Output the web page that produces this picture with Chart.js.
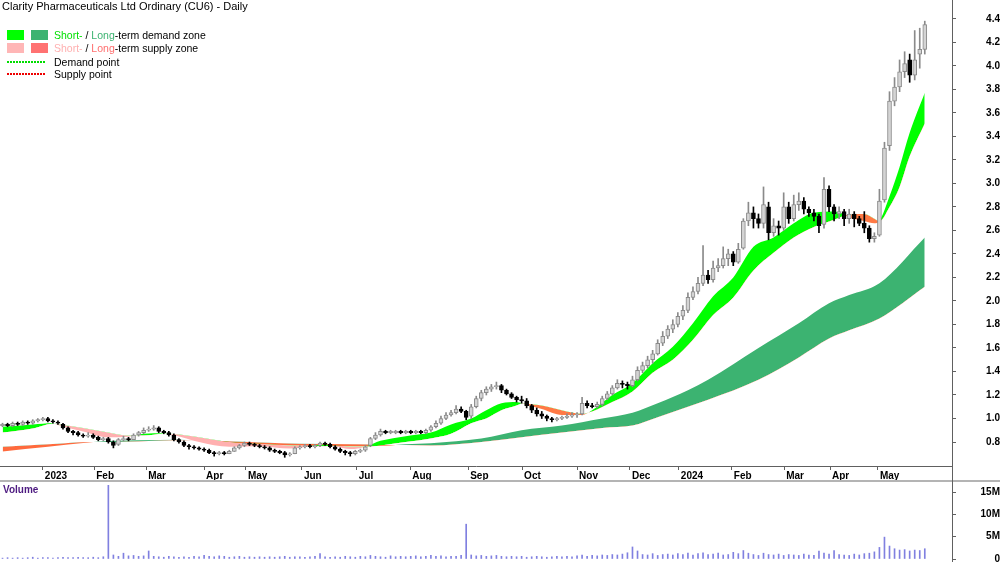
<!DOCTYPE html>
<html>
<head>
<meta charset="utf-8">
<script src="https://cdn.jsdelivr.net/npm/chart.js@4.4.1/dist/chart.umd.min.js"></script>
<style>
  body { margin: 0; width: 1000px; height: 562px; overflow: hidden; background: #fff; position: relative; font-family: 'Liberation Sans', Arial, sans-serif; }
  #price { position: absolute; left: 0; top: 0; }
  #volume { position: absolute; left: 0; top: 482px; }
  #sep { position: absolute; left: 0; top: 480px; width: 1000px; height: 2px; background: #b4b4b4; }
  #vline { position: absolute; left: 952px; top: 0; width: 1px; height: 562px; background: #606060; }
  #title { position: absolute; left: 2px; top: 0; font-size: 11px; line-height: 13px; color: #000; white-space: nowrap; }
  .row { position: absolute; left: 0; width: 300px; height: 12px; }
  .sw { position: absolute; top: 1px; width: 17px; height: 10px; }
  .txt { position: absolute; left: 54px; top: 0; font-size: 10.5px; line-height: 12px; white-space: nowrap; color: #000; }
  .dots { position: absolute; left: 7px; top: 5px; width: 38px; height: 2px; }
  #vol-label { position: absolute; left: 3px; top: 484px; font-size: 10px; line-height: 12px; font-weight: bold; color: #4d1a80; }
</style>
</head>
<body>
<canvas id="price" width="1000" height="480"></canvas>
<div id="sep"></div>
<canvas id="volume" width="1000" height="80"></canvas>
<div id="vline"></div>
<div id="title">Clarity Pharmaceuticals Ltd Ordinary (CU6) - Daily</div>
<div class="row" style="top:29px">
  <span class="sw" style="left:7px;background:#00ff00"></span>
  <span class="sw" style="left:31px;background:#3cb371"></span>
  <span class="txt"><span style="color:#00e000">Short-</span> / <span style="color:#3cb371">Long</span>-term demand zone</span>
</div>
<div class="row" style="top:42px">
  <span class="sw" style="left:7px;background:#ffb6b6"></span>
  <span class="sw" style="left:31px;background:#ff7272"></span>
  <span class="txt"><span style="color:#ffb0b0">Short-</span> / <span style="color:#ff6e6e">Long</span>-term supply zone</span>
</div>
<div class="row" style="top:56px">
  <span class="dots" style="background:repeating-linear-gradient(to right,#00dd00 0 2px,transparent 2px 3px)"></span>
  <span class="txt">Demand point</span>
</div>
<div class="row" style="top:68px">
  <span class="dots" style="background:repeating-linear-gradient(to right,#ee0000 0 2px,transparent 2px 3px)"></span>
  <span class="txt">Supply point</span>
</div>
<div id="vol-label">Volume</div>

<script>
// Candles: one per two trading days, Dec 2022 - May 2024
const opens = [
  0.94,0.95,0.94,0.96,0.95,0.97,0.96,0.98,0.99,1.00,
  0.98,0.97,0.95,0.92,0.89,0.88,0.86,0.85,0.86,0.84,
  0.82,0.83,0.80,0.78,0.82,0.83,0.82,0.86,0.88,0.90,
  0.91,0.92,0.89,0.88,0.86,0.82,0.80,0.77,0.76,0.75,
  0.74,0.73,0.71,0.70,0.71,0.70,0.72,0.75,0.77,0.79,
  0.78,0.77,0.76,0.75,0.73,0.72,0.71,0.69,0.70,0.75,
  0.76,0.77,0.76,0.77,0.79,0.78,0.76,0.74,0.72,0.71,
  0.70,0.72,0.73,0.77,0.83,0.86,0.89,0.88,0.88,0.89,
  0.88,0.89,0.88,0.89,0.88,0.90,0.93,0.96,1.00,1.03,
  1.05,1.08,1.06,1.02,1.10,1.17,1.22,1.25,1.27,1.28,
  1.24,1.21,1.18,1.16,1.15,1.11,1.07,1.04,1.02,1.00,
  0.99,1.00,1.01,1.02,1.03,1.04,1.13,1.11,1.10,1.12,
  1.17,1.21,1.26,1.30,1.29,1.28,1.33,1.41,1.45,1.50,
  1.55,1.64,1.70,1.76,1.80,1.87,1.92,2.03,2.08,2.15,
  2.22,2.18,2.28,2.30,2.36,2.40,2.33,2.45,2.68,2.75,
  2.70,2.66,2.80,2.58,2.64,2.62,2.80,2.70,2.82,2.85,
  2.78,2.75,2.72,2.65,2.95,2.80,2.74,2.76,2.70,2.74,
  2.70,2.66,2.62,2.53,2.56,2.86,3.32,3.70,3.82,3.95,4.05,3.92,4.10,4.14
];
const highs = [
  0.96,0.96,0.97,0.97,0.98,0.98,0.99,1.00,1.01,1.01,
  0.99,0.98,0.96,0.93,0.90,0.89,0.87,0.88,0.87,0.85,
  0.84,0.84,0.81,0.83,0.85,0.84,0.87,0.89,0.92,0.93,
  0.94,0.93,0.90,0.89,0.87,0.83,0.81,0.78,0.77,0.76,
  0.75,0.74,0.72,0.72,0.72,0.73,0.76,0.78,0.80,0.80,
  0.79,0.78,0.77,0.76,0.74,0.73,0.72,0.71,0.76,0.77,
  0.78,0.78,0.78,0.80,0.80,0.79,0.77,0.75,0.73,0.72,
  0.73,0.74,0.77,0.84,0.88,0.91,0.90,0.90,0.90,0.90,
  0.90,0.90,0.90,0.90,0.91,0.94,0.98,1.02,1.05,1.07,
  1.11,1.10,1.07,1.12,1.19,1.24,1.27,1.29,1.31,1.29,
  1.25,1.22,1.19,1.19,1.17,1.12,1.09,1.06,1.03,1.01,
  1.01,1.02,1.04,1.05,1.05,1.18,1.15,1.13,1.14,1.19,
  1.23,1.28,1.33,1.32,1.31,1.36,1.44,1.48,1.53,1.58,
  1.67,1.74,1.79,1.84,1.90,1.96,2.07,2.12,2.20,2.47,
  2.26,2.34,2.36,2.46,2.44,2.42,2.49,2.70,2.84,2.80,
  2.74,2.97,2.84,2.70,2.68,2.92,2.84,2.90,2.92,2.88,
  2.80,2.78,2.74,3.05,2.98,2.82,2.80,2.78,2.78,2.76,
  2.72,2.76,2.64,2.58,2.95,3.35,3.78,3.90,4.05,4.12,4.10,4.30,4.32,4.38
];
const lows = [
  0.93,0.93,0.93,0.94,0.94,0.95,0.95,0.97,0.98,0.97,
  0.96,0.95,0.91,0.88,0.86,0.85,0.84,0.84,0.83,0.81,
  0.81,0.79,0.75,0.77,0.81,0.81,0.82,0.85,0.87,0.89,
  0.90,0.88,0.87,0.85,0.81,0.79,0.76,0.74,0.74,0.73,
  0.72,0.70,0.68,0.69,0.69,0.70,0.72,0.74,0.76,0.77,
  0.76,0.75,0.74,0.72,0.71,0.70,0.67,0.68,0.70,0.74,
  0.75,0.75,0.75,0.76,0.77,0.75,0.73,0.71,0.69,0.68,
  0.69,0.71,0.72,0.76,0.82,0.85,0.87,0.87,0.87,0.87,
  0.87,0.87,0.87,0.87,0.87,0.89,0.92,0.95,0.99,1.02,
  1.04,1.05,0.99,1.00,1.09,1.15,1.20,1.23,1.25,1.22,
  1.20,1.17,1.14,1.13,1.09,1.05,1.02,1.00,0.98,0.97,
  0.98,0.99,1.00,1.01,1.01,1.03,1.09,1.09,1.09,1.11,
  1.16,1.20,1.25,1.26,1.25,1.27,1.32,1.39,1.43,1.47,
  1.54,1.62,1.68,1.73,1.78,1.84,1.90,2.01,2.06,2.13,
  2.15,2.16,2.25,2.28,2.30,2.30,2.32,2.44,2.64,2.62,
  2.62,2.62,2.52,2.55,2.56,2.60,2.66,2.68,2.77,2.74,
  2.72,2.68,2.58,2.62,2.76,2.68,2.70,2.64,2.66,2.63,
  2.64,2.58,2.50,2.50,2.55,2.84,3.28,3.66,3.78,3.90,3.86,3.88,3.98,4.10
];
const closes = [
  0.95,0.94,0.96,0.95,0.97,0.96,0.98,0.99,1.00,0.98,
  0.97,0.96,0.92,0.89,0.88,0.86,0.85,0.86,0.84,0.82,
  0.83,0.80,0.77,0.82,0.83,0.82,0.86,0.88,0.90,0.91,
  0.92,0.89,0.88,0.86,0.82,0.80,0.77,0.76,0.75,0.74,
  0.73,0.71,0.70,0.71,0.70,0.72,0.75,0.77,0.79,0.78,
  0.77,0.76,0.75,0.73,0.72,0.71,0.69,0.70,0.75,0.76,
  0.77,0.76,0.77,0.79,0.78,0.76,0.74,0.72,0.71,0.70,
  0.72,0.73,0.76,0.83,0.86,0.89,0.88,0.89,0.89,0.88,
  0.89,0.88,0.89,0.88,0.90,0.93,0.96,1.00,1.03,1.05,
  1.08,1.06,1.01,1.10,1.17,1.22,1.25,1.27,1.28,1.24,
  1.21,1.18,1.16,1.15,1.11,1.07,1.04,1.02,1.00,0.99,
  1.00,1.01,1.02,1.03,1.03,1.13,1.11,1.10,1.12,1.17,
  1.21,1.26,1.30,1.29,1.28,1.33,1.41,1.45,1.50,1.55,
  1.64,1.70,1.76,1.80,1.87,1.92,2.03,2.08,2.15,2.22,
  2.18,2.28,2.30,2.36,2.40,2.33,2.44,2.68,2.75,2.70,
  2.66,2.82,2.58,2.64,2.62,2.80,2.70,2.82,2.85,2.78,
  2.75,2.72,2.64,2.95,2.80,2.74,2.76,2.70,2.74,2.70,
  2.66,2.62,2.53,2.55,2.85,3.30,3.70,3.82,3.95,4.02,3.92,4.05,4.14,4.35
];
// Volume in millions, same periods as candles
const volumeM = [
  0.2,0.3,0.2,0.3,0.2,0.3,0.4,0.2,0.3,0.3,
  0.2,0.3,0.4,0.3,0.3,0.4,0.3,0.3,0.4,0.3,
  0.5,16.5,0.9,0.6,1.3,0.7,0.8,0.6,0.7,1.8,
  0.6,0.5,0.4,0.6,0.5,0.4,0.5,0.4,0.6,0.5,
  0.8,0.6,0.5,0.7,0.6,0.4,0.5,0.6,0.4,0.5,
  0.4,0.5,0.4,0.5,0.4,0.5,0.6,0.4,0.5,0.5,
  0.4,0.5,0.6,1.2,0.5,0.4,0.5,0.4,0.6,0.5,
  0.4,0.6,0.5,0.8,0.6,0.5,0.4,0.7,0.5,0.6,
  0.5,0.6,0.7,0.5,0.6,0.8,0.6,0.7,0.5,0.6,
  0.6,0.8,7.8,0.9,0.7,0.8,0.6,0.7,0.8,0.6,
  0.5,0.6,0.5,0.6,0.4,0.5,0.6,0.5,0.4,0.5,
  0.6,0.5,0.6,0.5,0.7,0.9,0.6,0.8,0.7,0.9,
  0.8,1.0,0.9,1.1,1.4,2.7,1.8,1.0,0.9,1.2,
  0.8,1.0,1.1,0.9,1.2,1.0,1.3,0.9,1.2,1.4,
  1.0,1.1,1.3,0.9,1.0,1.5,1.2,1.9,1.3,1.0,
  0.8,1.3,1.0,0.9,1.1,0.8,1.0,0.9,0.8,1.1,
  0.9,0.8,1.8,1.3,1.1,1.9,1.0,0.9,0.8,1.1,
  0.9,1.2,1.3,1.6,2.6,4.9,2.9,2.3,2.0,2.1,1.8,2.0,1.9,2.3
];

// Short-term zone edges (sampled at candle indices)
const stIdx  = [0,6,10,11,16,21,25,28,32,34,39,45,51,57,61,64,66,69,72,75,80,85,89,93,96,99,102,103,107,111,115,117,121,125,129,133,137,141,145,149,153,157,161,165,167,168,171,173,174,176,178,180,183];
const stFast = [0.93,0.95,0.96,0.945,0.89,0.84,0.845,0.87,0.875,0.86,0.80,0.76,0.765,0.745,0.765,0.778,0.765,0.74,0.76,0.81,0.85,0.88,0.95,1.00,1.07,1.13,1.14,1.13,1.08,1.03,1.03,1.07,1.20,1.30,1.47,1.61,1.81,2.04,2.20,2.46,2.54,2.66,2.75,2.76,2.735,2.71,2.68,2.66,2.68,2.89,3.14,3.43,3.77];
const stSlow = [0.88,0.915,0.955,0.952,0.92,0.88,0.855,0.855,0.87,0.868,0.84,0.80,0.785,0.77,0.765,0.765,0.77,0.76,0.76,0.77,0.80,0.83,0.87,0.96,1.00,1.07,1.11,1.13,1.11,1.07,1.04,1.06,1.14,1.23,1.39,1.50,1.67,1.88,2.03,2.26,2.41,2.54,2.63,2.69,2.725,2.735,2.74,2.70,2.68,2.80,2.97,3.23,3.51];
// Long-term zone edges
const ltIdx  = [0,9,17,18,27,35,38,49,59,71,77,80,85,95,103,111,119,125,130,136,140,150,158,164,168,174,183];
const ltFast = [0.72,0.76,0.795,0.80,0.815,0.82,0.815,0.785,0.77,0.765,0.77,0.78,0.79,0.83,0.90,0.94,1.00,1.05,1.13,1.24,1.33,1.60,1.81,1.98,2.05,2.15,2.54];
const ltSlow = [0.76,0.78,0.80,0.80,0.805,0.815,0.815,0.80,0.785,0.78,0.775,0.775,0.77,0.80,0.84,0.88,0.92,0.94,1.01,1.10,1.16,1.33,1.52,1.68,1.75,1.85,2.12];

const monthPos = [8.0,18.2,28.5,40.0,48.3,59.4,70.3,80.9,92.4,103.1,114.0,124.5,134.2,144.7,155.1,164.2,173.7];
const monthLabels = ['2023','Feb','Mar','Apr','May','Jun','Jul','Aug','Sep','Oct','Nov','Dec','2024','Feb','Mar','Apr','May'];
const priceTicks = [0.8,1.0,1.2,1.4,1.6,1.8,2.0,2.2,2.4,2.6,2.8,3.0,3.2,3.4,3.6,3.8,4.0,4.2,4.4];
const volumeTicks = [0,5,10,15];

const axisFont = { family: "'Liberation Sans', Arial, sans-serif", size: 10, weight: 'bold' };
const axisGrey = '#606060';
const isUp = i => closes[i] >= opens[i];

function band(idx, vals, from, to) {
  const pts = [];
  idx.forEach((k, i) => { if (k >= from && k <= to) pts.push({ x: k, y: vals[i] }); });
  return pts;
}

function bandPair(idx, fast, slow, from, to, upColour, downColour, order) {
  return [
    { type: 'line', data: band(idx, fast, from, to), borderColor: 'rgba(0,0,0,0)', borderWidth: 1, pointRadius: 0,
      cubicInterpolationMode: 'monotone', fill: { target: '+1', above: upColour, below: downColour }, order: order },
    { type: 'line', data: band(idx, slow, from, to), borderColor: 'rgba(0,0,0,0)', borderWidth: 1, pointRadius: 0,
      cubicInterpolationMode: 'monotone', fill: false, order: order + 1 }
  ];
}

// right-hand value axis: fixed width, labels pushed to the far edge, no extra top/bottom padding
function rightAxis(min, max, tickValues, labelPad, format) {
  return {
    type: 'linear', position: 'right', min: min, max: max,
    afterBuildTicks: s => { s.ticks = tickValues.map(v => ({ value: v })); },
    afterFit: s => { s.width = 48; s.paddingTop = 0; s.paddingBottom = 0; },
    ticks: { crossAlign: 'far', padding: labelPad, color: '#000', font: axisFont, callback: format },
    grid: { drawOnChartArea: false, tickLength: 4, color: axisGrey },
    border: { display: true, color: axisGrey }
  };
}

const xRange = { type: 'linear', min: -0.5, max: 188.4, offset: false };

new Chart(document.getElementById('price'), {
  type: 'bar',
  data: {
    datasets: [
      ...bandPair(ltIdx, ltFast, ltSlow, 0, 999, '#3cb371', '#ff6a3d', 20),
      // the short-term supply zone reads pink in 2023 and orange from the October pull-back on
      ...bandPair(stIdx, stFast, stSlow, 0, 103, '#00ff00', '#ffb0b0', 10),
      ...bandPair(stIdx, stFast, stSlow, 103, 999, '#00ff00', '#ff7a45', 10),
      {
        type: 'bar', grouped: false, barThickness: 1, order: 2,
        data: highs.map((h, i) => ({ x: i, y: [lows[i], h] })),
        backgroundColor: ctx => isUp(ctx.dataIndex) ? '#8a8a8a' : '#000'
      },
      {
        type: 'bar', grouped: false, barThickness: 4, order: 1, minBarLength: 1,
        borderSkipped: false, borderWidth: 1,
        data: opens.map((o, i) => ({ x: i, y: [o, closes[i]] })),
        backgroundColor: ctx => isUp(ctx.dataIndex) ? '#d4d4d4' : '#000',
        borderColor: ctx => isUp(ctx.dataIndex) ? '#8a8a8a' : '#000'
      }
    ]
  },
  options: {
    responsive: false, animation: false, events: [],
    layout: { padding: 0 },
    plugins: { legend: { display: false }, tooltip: { enabled: false } },
    scales: {
      x: {
        ...xRange,
        afterBuildTicks: s => { s.ticks = monthPos.map(v => ({ value: v })); },
        afterFit: s => { s.height = 14; s.paddingLeft = 0; s.paddingRight = 0; },
        ticks: { autoSkip: false, maxRotation: 0, align: 'start', padding: 0, color: '#000', font: axisFont,
          callback: (v, i) => '\u2009' + monthLabels[i] },
        grid: { drawOnChartArea: false, drawTicks: true, tickLength: 4, color: axisGrey, offset: false },
        border: { display: true, color: axisGrey }
      },
      y: rightAxis(0.596, 4.56, priceTicks, 26, v => v.toFixed(1))
    }
  }
});

new Chart(document.getElementById('volume'), {
  type: 'bar',
  data: {
    datasets: [{
      data: volumeM.map((v, i) => ({ x: i, y: v })),
      barThickness: 1, backgroundColor: '#8080e0'
    }]
  },
  options: {
    responsive: false, animation: false, events: [],
    layout: { padding: { top: 2, bottom: 3 } },
    plugins: { legend: { display: false }, tooltip: { enabled: false } },
    scales: {
      x: { ...xRange, display: false },
      y: rightAxis(0, 16.8, volumeTicks, 21, v => v === 0 ? '0' : v + 'M')
    }
  }
});
</script>
</body>
</html>
